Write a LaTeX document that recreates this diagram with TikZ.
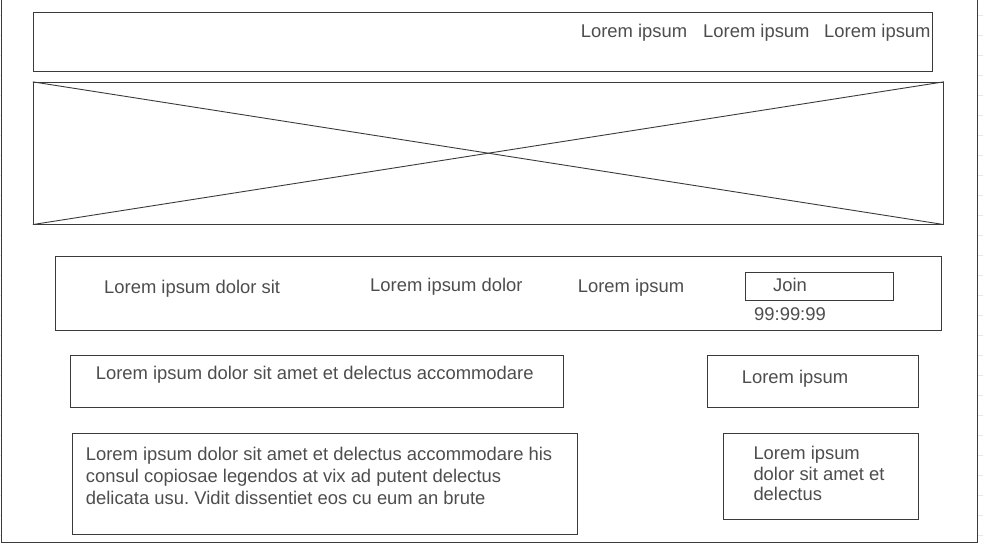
\documentclass[tikz,border=0pt]{standalone}
\usepackage{fontspec}
\setmainfont{Liberation Sans}
\frenchspacing
\definecolor{linegray}{HTML}{3A3A3A}
\definecolor{textgray}{HTML}{4D4D4D}
\definecolor{tickgray}{HTML}{E8E8E8}

\begin{document}
\begin{tikzpicture}[x=1pt, y=-1pt,
  box/.style={draw=linegray, line width=1pt, inner sep=0pt},
  txt/.style={text=textgray, inner sep=0pt, anchor=base west, align=left, font=\fontsize{18.4}{21.7}\selectfont}]
\useasboundingbox (0,0) rectangle (983,543);
% page ticks
\foreach \y in {15,35,...,535} {
  \draw[tickgray, line width=0.8pt] (977.8,\y) -- (983,\y);
  \draw[tickgray, line width=0.8pt] (0,\y) -- (1.2,\y);
}
\node[box, minimum width=975.6pt, minimum height=544.3pt] (frame) at (489.5, 270.2) {};
% header
\node[box, minimum width=898.7pt, minimum height=58.7pt] (header) at (482.7, 41.7) {};
\node[txt] (menu1) at (580.7, 37.3) {Lorem ipsum};
\node[txt] (menu2) at (703, 37.3) {Lorem ipsum};
\node[txt] (menu3) at (824, 37.3) {Lorem ipsum};
% banner
\node[box, minimum width=910pt, minimum height=141.7pt] (banner) at (488.3, 153.2) {};
\draw[linegray, line width=0.9pt] (banner.north west) -- (banner.south east);
\draw[linegray, line width=0.9pt] (banner.south west) -- (banner.north east);
% nav bar
\node[box, minimum width=886.4pt, minimum height=74.3pt] (nav) at (498.5, 293.2) {};
\node[txt] (nav1) at (104, 293) {Lorem ipsum dolor sit};
\node[txt] (nav2) at (370, 291.7) {Lorem ipsum dolor};
\node[txt] (nav3) at (577.7, 292.7) {Lorem ipsum};
\node[box, minimum width=148.4pt, minimum height=28pt] (join) at (819.5, 286.3) {};
\node[txt] (jointxt) at (773, 291.7) {Join};
\node[txt] (timer) at (754, 320.7) {99:99:99};
% content
\node[box, minimum width=493pt, minimum height=51.7pt] (intro) at (316.8, 381.2) {};
\node[txt] (introtxt) at (95.7, 379.3) {Lorem ipsum dolor sit amet et delectus accommodare};
\node[box, minimum width=211.4pt, minimum height=51.7pt] (side) at (813, 381.2) {};
\node[txt] (sidetxt) at (741.7, 383.3) {Lorem ipsum};
\node[box, minimum width=505.4pt, minimum height=100.8pt] (body) at (325, 483.9) {};
\node[txt] (bodytxt) at (85.7, 504.1) {Lorem ipsum dolor sit amet et delectus accommodare his\\consul copiosae legendos at vix ad putent delectus\\delicata usu. Vidit dissentiet eos cu eum an brute};
\node[box, minimum width=195.4pt, minimum height=85.7pt] (aside) at (821, 476.2) {};
\node[txt, font=\fontsize{18.4}{20.7}\selectfont] (asidetxt) at (753.3, 500.7) {Lorem ipsum\\dolor sit amet et\\delectus};
\end{tikzpicture}
\end{document}
